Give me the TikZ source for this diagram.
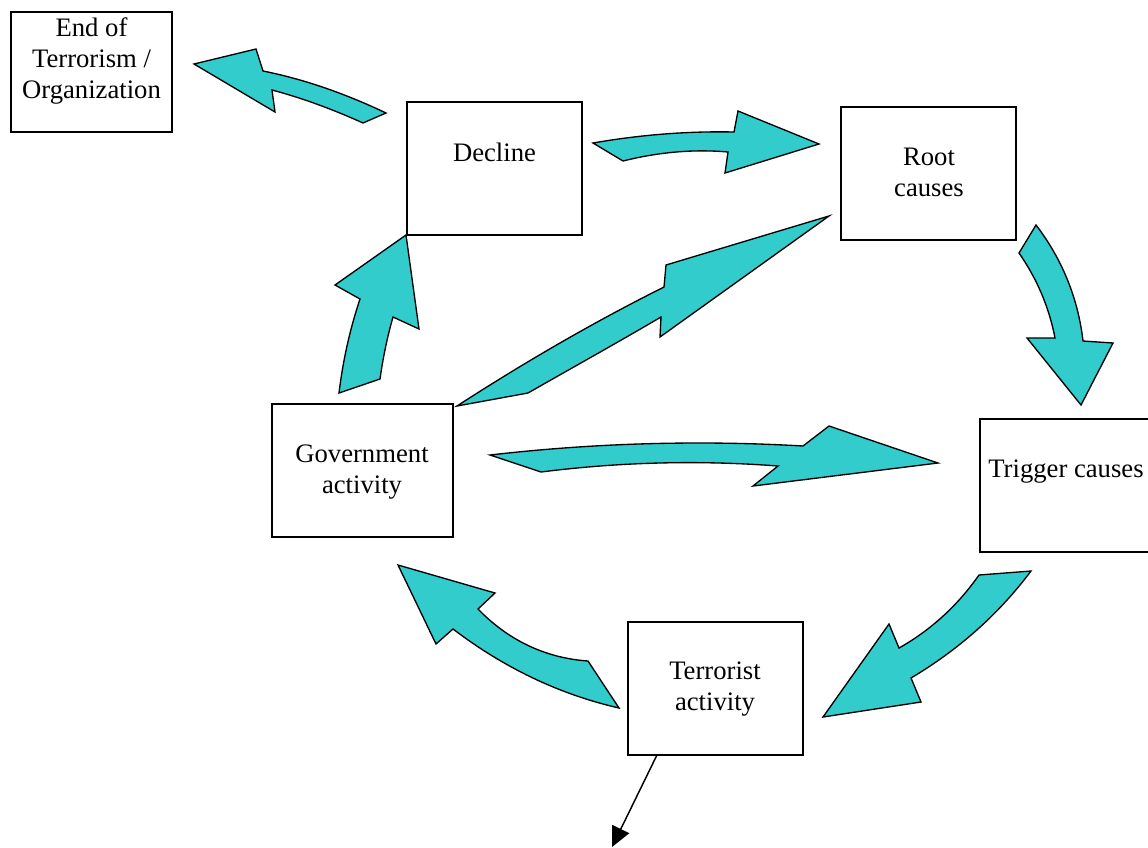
\documentclass[tikz,border=0pt]{standalone}
\usepackage{fontspec}
\setmainfont{Liberation Serif}
\usetikzlibrary{arrows.meta,calc}
\definecolor{tq}{HTML}{33CCCC}
\tikzset{
  box/.style={draw=black, line width=0.8pt, fill=white, rectangle, inner sep=0pt},
  lbl/.style={align=center, inner sep=0pt, font=\fontsize{20}{23.25}\selectfont},
  blk/.style={draw=black, line width=1pt, fill=tq, line join=miter},
  thin/.style={draw=black, line width=1.1pt, -{Triangle[length=15pt,width=14pt]}}
}
\begin{document}
\begin{tikzpicture}[x=0.75pt,y=-0.75pt]
\clip (0,0) rectangle (1148,847);
\fill[white] (0,0) rectangle (1148,847);
% boxes
\node[box, minimum width=120.75pt, minimum height=90pt] (endt) at (91.5,72) {};
\node[box, minimum width=131.25pt, minimum height=99.75pt] (decl) at (494.5,168.5) {};
\node[box, minimum width=131.25pt, minimum height=99.75pt] (root) at (928.5,173.5) {};
\node[box, minimum width=133.5pt, minimum height=99.75pt] (trig) at (1069,485.5) {};
\node[box, minimum width=135.75pt, minimum height=99.75pt] (gov) at (362.5,470.5) {};
\node[box, minimum width=131.25pt, minimum height=99.75pt] (terr) at (715.5,688.5) {};
% labels (base = baseline of the last line)
\node[lbl, anchor=base] (tendt) at (91.5,98) {End of\\Terrorism /\\Organization};
\node[lbl, anchor=base] (tdecl) at (494.5,161) {Decline};
\node[lbl, anchor=base] (troot) at (929,196) {Root\\causes};
\node[lbl, anchor=base] (ttrig) at (1066,477) {Trigger causes};
\node[lbl, anchor=base] (tgov) at (362,493) {Government\\activity};
\node[lbl, anchor=base] (tterr) at (715,710) {Terrorist\\activity};
% block arrows
% Decline -> End
\path[blk] (194,64) -- (256,49) -- (263,71) .. controls (303,79) and (344,93) .. (386,113) -- (363,123) .. controls (332,109) and (302,98) .. (272,90) -- (275,112) -- cycle;
% Decline -> Root
\path[blk] (593,143) .. controls (639,135) and (686,131) .. (734,132) -- (738,111) -- (819,144) -- (725,173) -- (728,152) .. controls (694,149) and (659,152) .. (623,161) -- cycle;
% Government -> Root
\path[blk] (457,406) .. controls (525,362) and (594,322) .. (664,287) -- (666,265) -- (829,216) -- (660,337) -- (661,317) .. controls (615,344) and (570,369) .. (528,393) -- cycle;
% Government -> Decline
\path[blk] (406,235) -- (419,329) -- (393,317) .. controls (387,338) and (383,358) .. (380,379) -- (339,393) .. controls (343,360) and (350,329) .. (360,299) -- (335,285) -- cycle;
% Root -> Trigger
\path[blk] (1036,225) .. controls (1062,259) and (1078,298) .. (1083,341) -- (1113,343) -- (1081,405) -- (1027,338) -- (1055,338) .. controls (1049,307) and (1037,279) .. (1019,253) -- cycle;
% Government -> Trigger
\path[blk] (490,455) .. controls (594,443) and (699,440) .. (803,446) -- (829,426) -- (938,463) -- (753,486) -- (778,466) .. controls (699,460) and (620,462) .. (541,472) -- cycle;
% Trigger -> Terrorist
\path[blk] (1031,571) .. controls (998,615) and (958,650) .. (911,678) -- (921,702) -- (823,717) -- (889,624) -- (899,648) .. controls (931,630) and (958,605) .. (979,575) -- cycle;
% Terrorist -> Government
\path[blk] (398,565) -- (495,593) -- (478,609) .. controls (508,640) and (545,658) .. (588,661) -- (619,708) .. controls (558,694) and (503,667) .. (453,629) -- (436,644) -- cycle;
% thin arrow out of Terrorist activity
\coordinate (outend) at (612,847);
\draw[thin] ($(terr.south west)!0.166!(terr.south east)$) -- (outend);
\end{tikzpicture}
\end{document}
